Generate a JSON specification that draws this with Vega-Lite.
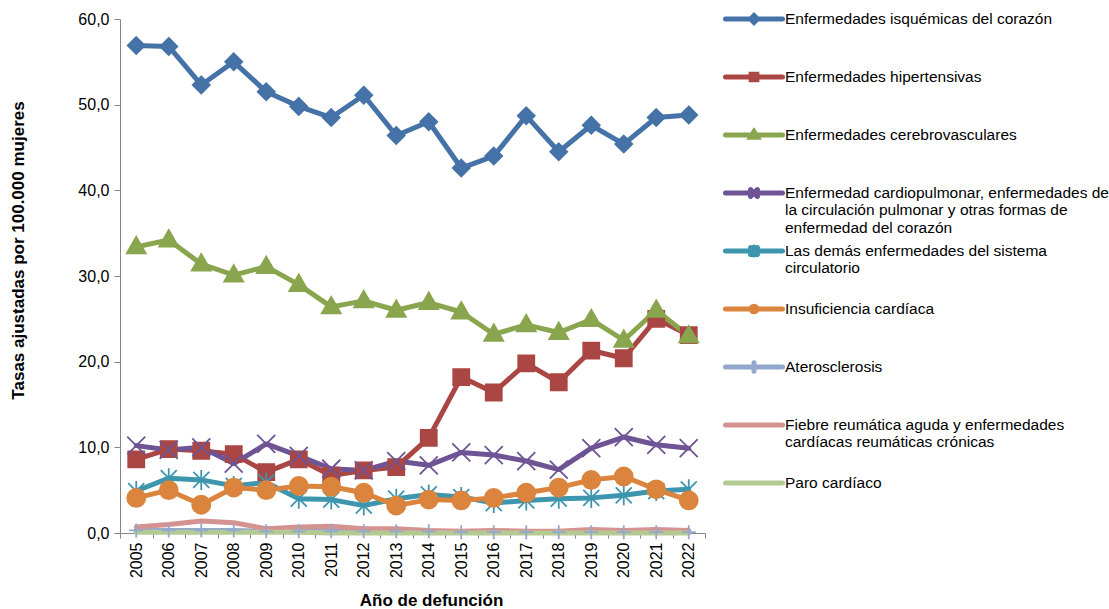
{
  "$schema": "https://vega.github.io/schema/vega-lite/v6.json",
  "width": 585,
  "height": 514,
  "autosize": {"type": "none"},
  "padding": {"left": 120, "top": 19, "right": 404, "bottom": 76},
  "background": "white",
  "config": {
    "view": {"stroke": null},
    "font": "Liberation Sans",
    "axis": {"labelColor": "black", "titleColor": "black", "domainColor": "#868686", "tickColor": "#868686", "grid": false, "labelFont": "Liberation Sans", "titleFont": "Liberation Sans"}
  },
  "data": {
    "values": [
      {"Año": "2005", "Enfermedades isquémicas del corazón": 56.9, "Enfermedades hipertensivas": 8.6, "Enfermedades cerebrovasculares": 33.4, "Enfermedad cardiopulmonar, enfermedades de la circulación pulmonar y otras formas de enfermedad del corazón": 10.2, "Las demás enfermedades del sistema circulatorio": 4.9, "Insuficiencia cardíaca": 4.1, "Aterosclerosis": 0.3, "Fiebre reumática aguda y enfermedades cardíacas reumáticas crónicas": 0.7, "Paro cardíaco": 0.1},
      {"Año": "2006", "Enfermedades isquémicas del corazón": 56.8, "Enfermedades hipertensivas": 9.8, "Enfermedades cerebrovasculares": 34.2, "Enfermedad cardiopulmonar, enfermedades de la circulación pulmonar y otras formas de enfermedad del corazón": 9.7, "Las demás enfermedades del sistema circulatorio": 6.4, "Insuficiencia cardíaca": 5.0, "Aterosclerosis": 0.3, "Fiebre reumática aguda y enfermedades cardíacas reumáticas crónicas": 1.0, "Paro cardíaco": 0.1},
      {"Año": "2007", "Enfermedades isquémicas del corazón": 52.3, "Enfermedades hipertensivas": 9.6, "Enfermedades cerebrovasculares": 31.4, "Enfermedad cardiopulmonar, enfermedades de la circulación pulmonar y otras formas de enfermedad del corazón": 10.0, "Las demás enfermedades del sistema circulatorio": 6.2, "Insuficiencia cardíaca": 3.3, "Aterosclerosis": 0.3, "Fiebre reumática aguda y enfermedades cardíacas reumáticas crónicas": 1.4, "Paro cardíaco": 0.1},
      {"Año": "2008", "Enfermedades isquémicas del corazón": 55.0, "Enfermedades hipertensivas": 9.2, "Enfermedades cerebrovasculares": 30.1, "Enfermedad cardiopulmonar, enfermedades de la circulación pulmonar y otras formas de enfermedad del corazón": 8.1, "Las demás enfermedades del sistema circulatorio": 5.5, "Insuficiencia cardíaca": 5.3, "Aterosclerosis": 0.3, "Fiebre reumática aguda y enfermedades cardíacas reumáticas crónicas": 1.2, "Paro cardíaco": 0.1},
      {"Año": "2009", "Enfermedades isquémicas del corazón": 51.5, "Enfermedades hipertensivas": 7.1, "Enfermedades cerebrovasculares": 31.1, "Enfermedad cardiopulmonar, enfermedades de la circulación pulmonar y otras formas de enfermedad del corazón": 10.4, "Las demás enfermedades del sistema circulatorio": 5.9, "Insuficiencia cardíaca": 5.0, "Aterosclerosis": 0.2, "Fiebre reumática aguda y enfermedades cardíacas reumáticas crónicas": 0.5, "Paro cardíaco": 0.1},
      {"Año": "2010", "Enfermedades isquémicas del corazón": 49.8, "Enfermedades hipertensivas": 8.6, "Enfermedades cerebrovasculares": 29.0, "Enfermedad cardiopulmonar, enfermedades de la circulación pulmonar y otras formas de enfermedad del corazón": 9.0, "Las demás enfermedades del sistema circulatorio": 4.0, "Insuficiencia cardíaca": 5.5, "Aterosclerosis": 0.2, "Fiebre reumática aguda y enfermedades cardíacas reumáticas crónicas": 0.7, "Paro cardíaco": 0.1},
      {"Año": "2011", "Enfermedades isquémicas del corazón": 48.5, "Enfermedades hipertensivas": 6.7, "Enfermedades cerebrovasculares": 26.4, "Enfermedad cardiopulmonar, enfermedades de la circulación pulmonar y otras formas de enfermedad del corazón": 7.5, "Las demás enfermedades del sistema circulatorio": 3.9, "Insuficiencia cardíaca": 5.4, "Aterosclerosis": 0.2, "Fiebre reumática aguda y enfermedades cardíacas reumáticas crónicas": 0.8, "Paro cardíaco": 0.0},
      {"Año": "2012", "Enfermedades isquémicas del corazón": 51.1, "Enfermedades hipertensivas": 7.3, "Enfermedades cerebrovasculares": 27.1, "Enfermedad cardiopulmonar, enfermedades de la circulación pulmonar y otras formas de enfermedad del corazón": 7.3, "Las demás enfermedades del sistema circulatorio": 3.2, "Insuficiencia cardíaca": 4.7, "Aterosclerosis": 0.2, "Fiebre reumática aguda y enfermedades cardíacas reumáticas crónicas": 0.5, "Paro cardíaco": 0.0},
      {"Año": "2013", "Enfermedades isquémicas del corazón": 46.4, "Enfermedades hipertensivas": 7.7, "Enfermedades cerebrovasculares": 26.0, "Enfermedad cardiopulmonar, enfermedades de la circulación pulmonar y otras formas de enfermedad del corazón": 8.4, "Las demás enfermedades del sistema circulatorio": 4.0, "Insuficiencia cardíaca": 3.2, "Aterosclerosis": 0.2, "Fiebre reumática aguda y enfermedades cardíacas reumáticas crónicas": 0.5, "Paro cardíaco": 0.0},
      {"Año": "2014", "Enfermedades isquémicas del corazón": 48.0, "Enfermedades hipertensivas": 11.1, "Enfermedades cerebrovasculares": 26.9, "Enfermedad cardiopulmonar, enfermedades de la circulación pulmonar y otras formas de enfermedad del corazón": 7.9, "Las demás enfermedades del sistema circulatorio": 4.5, "Insuficiencia cardíaca": 3.9, "Aterosclerosis": 0.2, "Fiebre reumática aguda y enfermedades cardíacas reumáticas crónicas": 0.3, "Paro cardíaco": 0.0},
      {"Año": "2015", "Enfermedades isquémicas del corazón": 42.6, "Enfermedades hipertensivas": 18.2, "Enfermedades cerebrovasculares": 25.8, "Enfermedad cardiopulmonar, enfermedades de la circulación pulmonar y otras formas de enfermedad del corazón": 9.4, "Las demás enfermedades del sistema circulatorio": 4.2, "Insuficiencia cardíaca": 3.8, "Aterosclerosis": 0.1, "Fiebre reumática aguda y enfermedades cardíacas reumáticas crónicas": 0.2, "Paro cardíaco": 0.0},
      {"Año": "2016", "Enfermedades isquémicas del corazón": 44.0, "Enfermedades hipertensivas": 16.4, "Enfermedades cerebrovasculares": 23.2, "Enfermedad cardiopulmonar, enfermedades de la circulación pulmonar y otras formas de enfermedad del corazón": 9.1, "Las demás enfermedades del sistema circulatorio": 3.5, "Insuficiencia cardíaca": 4.1, "Aterosclerosis": 0.1, "Fiebre reumática aguda y enfermedades cardíacas reumáticas crónicas": 0.3, "Paro cardíaco": 0.0},
      {"Año": "2017", "Enfermedades isquémicas del corazón": 48.7, "Enfermedades hipertensivas": 19.8, "Enfermedades cerebrovasculares": 24.3, "Enfermedad cardiopulmonar, enfermedades de la circulación pulmonar y otras formas de enfermedad del corazón": 8.4, "Las demás enfermedades del sistema circulatorio": 3.8, "Insuficiencia cardíaca": 4.7, "Aterosclerosis": 0.1, "Fiebre reumática aguda y enfermedades cardíacas reumáticas crónicas": 0.2, "Paro cardíaco": 0.0},
      {"Año": "2018", "Enfermedades isquémicas del corazón": 44.5, "Enfermedades hipertensivas": 17.6, "Enfermedades cerebrovasculares": 23.4, "Enfermedad cardiopulmonar, enfermedades de la circulación pulmonar y otras formas de enfermedad del corazón": 7.4, "Las demás enfermedades del sistema circulatorio": 4.0, "Insuficiencia cardíaca": 5.3, "Aterosclerosis": 0.1, "Fiebre reumática aguda y enfermedades cardíacas reumáticas crónicas": 0.2, "Paro cardíaco": 0.0},
      {"Año": "2019", "Enfermedades isquémicas del corazón": 47.6, "Enfermedades hipertensivas": 21.3, "Enfermedades cerebrovasculares": 24.9, "Enfermedad cardiopulmonar, enfermedades de la circulación pulmonar y otras formas de enfermedad del corazón": 9.9, "Las demás enfermedades del sistema circulatorio": 4.1, "Insuficiencia cardíaca": 6.2, "Aterosclerosis": 0.1, "Fiebre reumática aguda y enfermedades cardíacas reumáticas crónicas": 0.4, "Paro cardíaco": 0.0},
      {"Año": "2020", "Enfermedades isquémicas del corazón": 45.4, "Enfermedades hipertensivas": 20.4, "Enfermedades cerebrovasculares": 22.5, "Enfermedad cardiopulmonar, enfermedades de la circulación pulmonar y otras formas de enfermedad del corazón": 11.2, "Las demás enfermedades del sistema circulatorio": 4.4, "Insuficiencia cardíaca": 6.6, "Aterosclerosis": 0.1, "Fiebre reumática aguda y enfermedades cardíacas reumáticas crónicas": 0.3, "Paro cardíaco": 0.0},
      {"Año": "2021", "Enfermedades isquémicas del corazón": 48.5, "Enfermedades hipertensivas": 25.0, "Enfermedades cerebrovasculares": 26.0, "Enfermedad cardiopulmonar, enfermedades de la circulación pulmonar y otras formas de enfermedad del corazón": 10.3, "Las demás enfermedades del sistema circulatorio": 4.9, "Insuficiencia cardíaca": 5.1, "Aterosclerosis": 0.1, "Fiebre reumática aguda y enfermedades cardíacas reumáticas crónicas": 0.4, "Paro cardíaco": 0.0},
      {"Año": "2022", "Enfermedades isquémicas del corazón": 48.8, "Enfermedades hipertensivas": 23.1, "Enfermedades cerebrovasculares": 23.0, "Enfermedad cardiopulmonar, enfermedades de la circulación pulmonar y otras formas de enfermedad del corazón": 9.9, "Las demás enfermedades del sistema circulatorio": 5.1, "Insuficiencia cardíaca": 3.8, "Aterosclerosis": 0.1, "Fiebre reumática aguda y enfermedades cardíacas reumáticas crónicas": 0.3, "Paro cardíaco": 0.0}
    ]
  },
  "transform": [
    {"fold": ["Enfermedades isquémicas del corazón", "Enfermedades hipertensivas", "Enfermedades cerebrovasculares", "Enfermedad cardiopulmonar, enfermedades de la circulación pulmonar y otras formas de enfermedad del corazón", "Las demás enfermedades del sistema circulatorio", "Insuficiencia cardíaca", "Aterosclerosis", "Fiebre reumática aguda y enfermedades cardíacas reumáticas crónicas", "Paro cardíaco"], "as": ["serie", "tasa"]}
  ],
  "encoding": {
    "x": {
      "field": "Año", "type": "ordinal", "bandPosition": 0.5,
      "scale": {"type": "band", "paddingInner": 0, "paddingOuter": 0},
      "axis": {"title": "Año de defunción", "titleFontSize": 17, "titleFontWeight": "bold", "labelAngle": -90, "labelFontSize": 16, "tickBand": "extent", "tickSize": 5, "labelPadding": 4, "titleY": 59, "titleX": 311}
    },
    "y": {
      "field": "tasa", "type": "quantitative",
      "scale": {"domain": [0, 60], "nice": false},
      "axis": {"title": "Tasas ajustadas por 100.000 mujeres", "titleFontSize": 17, "titleFontWeight": "bold", "values": [0, 10, 20, 30, 40, 50, 60], "labelExpr": "replace(format(datum.value, '.1f'), '.', ',')", "labelFontSize": 16, "tickSize": 6, "labelPadding": 5, "titleX": -93, "titleY": 231}
    }
  },
  "layer": [
    {
      "mark": {"type": "line", "strokeWidth": 5, "strokeCap": "round", "strokeJoin": "round"},
      "encoding": {
        "color": {
          "field": "serie", "type": "nominal",
          "scale": {
            "domain": ["Enfermedades isquémicas del corazón", "Enfermedades hipertensivas", "Enfermedades cerebrovasculares", "Enfermedad cardiopulmonar, enfermedades de la circulación pulmonar y otras formas de enfermedad del corazón", "Las demás enfermedades del sistema circulatorio", "Insuficiencia cardíaca", "Aterosclerosis", "Fiebre reumática aguda y enfermedades cardíacas reumáticas crónicas", "Paro cardíaco"],
            "range": ["#4572A7", "#AA4643", "#89A54E", "#6E5494", "#3D96AE", "#DB843D", "#92A8CD", "#D49391", "#B5CA92"]
          },
          "legend": {
            "title": null, "orient": "none", "legendX": 603, "legendY": -7.5, "direction": "vertical", "padding": 0,
            "symbolSize": 3249, "symbolStrokeWidth": 5, "symbolOffset": 0, "labelOffset": 0,
            "labelFont": "Liberation Sans", "labelFontSize": 15.5, "labelColor": "black", "labelLimit": 500,
            "clipHeight": 58, "rowPadding": 0, "labelBaseline": "top", "labelLineHeight": 21.5,
            "labelExpr": "datum.label == 'Enfermedad cardiopulmonar, enfermedades de la circulación pulmonar y otras formas de enfermedad del corazón' ? ['Enfermedad cardiopulmonar, enfermedades de', 'la circulación pulmonar y otras formas de', 'enfermedad del corazón'] : datum.label == 'Las demás enfermedades del sistema circulatorio' ? ['Las demás enfermedades del sistema', 'circulatorio'] : datum.label == 'Fiebre reumática aguda y enfermedades cardíacas reumáticas crónicas' ? ['Fiebre reumática aguda y enfermedades', 'cardíacas reumáticas crónicas'] : datum.label",
            "encode": {
              "symbols": {"update": {
                "y": {"value": 7.5},
                "shape": {"signal": "datum.value == 'Enfermedades isquémicas del corazón' ? 'M-1,0L1,0M0,-0.12L0.12,0L0,0.12L-0.12,0Z' : datum.value == 'Enfermedades hipertensivas' ? 'M-1,0L1,0M-0.1,-0.1L0.1,-0.1L0.1,0.1L-0.1,0.1Z' : datum.value == 'Enfermedades cerebrovasculares' ? 'M-1,0L1,0M0,-0.12L0.12,0.08L-0.12,0.08Z' : datum.value == 'Enfermedad cardiopulmonar, enfermedades de la circulación pulmonar y otras formas de enfermedad del corazón' ? 'M-1,0L1,0M-0.12,-0.12L0.12,0.12M-0.12,0.12L0.12,-0.12' : datum.value == 'Las demás enfermedades del sistema circulatorio' ? 'M-1,0L1,0M-0.12,-0.12L0.12,0.12M-0.12,0.12L0.12,-0.12M0,-0.14L0,0.14' : datum.value == 'Insuficiencia cardíaca' ? 'M-1,0L1,0M0.1,0A0.1,0.1 0 1,1 -0.1,0A0.1,0.1 0 1,1 0.1,0Z' : datum.value == 'Aterosclerosis' ? 'M-1,0L1,0M0,-0.15L0,0.15' : 'M-1,0L1,0'"},
                "fill": {"scale": "color", "field": "value"},
                "strokeCap": {"value": "round"}
              }},
              "labels": {"update": {"y": {"value": 0}}}
            }
          }
        }
      }
    },
    {
      "transform": [{"filter": {"field": "serie", "oneOf": ["Enfermedades isquémicas del corazón", "Enfermedades hipertensivas", "Enfermedades cerebrovasculares", "Enfermedad cardiopulmonar, enfermedades de la circulación pulmonar y otras formas de enfermedad del corazón", "Las demás enfermedades del sistema circulatorio", "Insuficiencia cardíaca", "Aterosclerosis"]}}],
      "mark": {"type": "point", "filled": true, "opacity": 1, "size": 400, "strokeWidth": 1.8},
      "encoding": {
        "color": {"field": "serie", "type": "nominal", "legend": null},
        "stroke": {
          "field": "serie", "type": "nominal", "legend": null,
          "scale": {
            "domain": ["Enfermedades isquémicas del corazón", "Enfermedades hipertensivas", "Enfermedades cerebrovasculares", "Enfermedad cardiopulmonar, enfermedades de la circulación pulmonar y otras formas de enfermedad del corazón", "Las demás enfermedades del sistema circulatorio", "Insuficiencia cardíaca", "Aterosclerosis"],
            "range": ["#4572A7", "#AA4643", "#89A54E", "#6E5494", "#3D96AE", "#DB843D", "#92A8CD"]
          }
        },
        "shape": {
          "field": "serie", "type": "nominal", "legend": null,
          "scale": {
            "domain": ["Enfermedades isquémicas del corazón", "Enfermedades hipertensivas", "Enfermedades cerebrovasculares", "Enfermedad cardiopulmonar, enfermedades de la circulación pulmonar y otras formas de enfermedad del corazón", "Las demás enfermedades del sistema circulatorio", "Insuficiencia cardíaca", "Aterosclerosis"],
            "range": ["M0,-0.85L0.85,0L0,0.85L-0.85,0Z", "M-0.8,-0.8L0.8,-0.8L0.8,0.8L-0.8,0.8Z", "M0,-1L0.95,0.65L-0.95,0.65Z", "M-0.9,-0.9L0.9,0.9M-0.9,0.9L0.9,-0.9", "M-0.8,-0.8L0.8,0.8M-0.8,0.8L0.8,-0.8M0,-1L0,1", "M0.9,0A0.9,0.9 0 1,1 -0.9,0A0.9,0.9 0 1,1 0.9,0Z", "M0,-0.7L0,0.7M-0.7,0L0.7,0"]
          }
        }
      }
    }
  ]
}
